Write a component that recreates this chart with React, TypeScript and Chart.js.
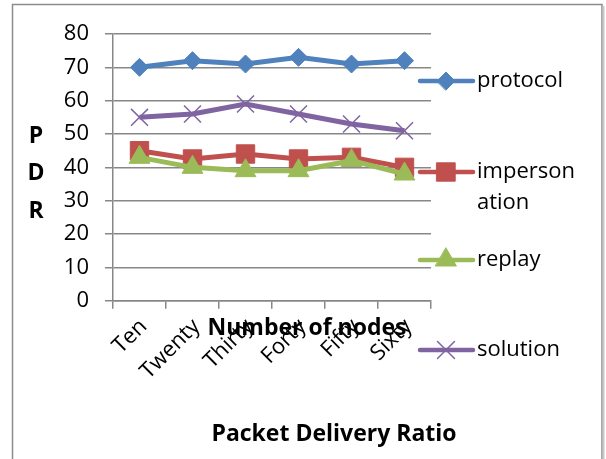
import React, { useEffect, useRef } from 'react';
import { Chart, registerables } from 'chart.js';
import { drawPoint } from 'chart.js/helpers';

Chart.register(...registerables);

const categories = ['Ten', 'Twenty', 'Thirty', 'Forty', 'Fifty', 'Sixty'];
const protocol = [70, 72, 71, 73, 71, 72];
const impersonation = [45, 42.5, 44, 42.5, 43, 40];
const replay = [43, 40, 39, 39, 42, 38];
const solution = [55, 56, 59, 56, 53, 51];
const yMin = 0;
const yMax = 80;
const yStep = 10;
const seriesNames = ['protocol', 'impersonation', 'replay', 'solution'];
const legendLines = [['protocol'], ['imperson', 'ation'], ['replay'], ['solution']];
const yTitleLetters = ['P', 'D', 'R'];
const xTitle = 'Number of nodes';
const chartTitle = 'Packet Delivery Ratio';

const FONT = '"Open Sans", "DejaVu Sans", sans-serif';
const GRID = '#878787';
const colors = ['#4F81BD', '#C0504D', '#9BBB59', '#8064A2'];
const styles = ['rectRot', 'rect', 'triangle', 'crossRot'];
const radii = [9, 13, 12, 12];
const W = 606;
const H = 459;

const decorPlugin = {
  id: 'decor',
  beforeDraw(chart: any) {
    const ctx = chart.ctx;
    ctx.save();
    ctx.fillStyle = '#ffffff';
    ctx.fillRect(0, 0, W, H);
    ctx.restore();
  },
  afterDraw(chart: any) {
    const ctx = chart.ctx;
    ctx.save();
    // frame
    ctx.strokeStyle = '#8c8c8c';
    ctx.lineWidth = 1.5;
    ctx.strokeRect(12.5, 4.5, 589.5, 480);
    ctx.strokeStyle = '#c8c8c8';
    ctx.lineWidth = 2;
    ctx.beginPath();
    ctx.moveTo(603.5, 6);
    ctx.lineTo(603.5, H);
    ctx.stroke();

    // legend
    const legendY = [81, 172, 260, 350];
    ctx.textAlign = 'left';
    ctx.textBaseline = 'middle';
    ctx.font = `22px ${FONT}`;
    seriesNames.forEach((_, i) => {
      const y = legendY[i];
      ctx.strokeStyle = colors[i];
      ctx.lineWidth = 4.5;
      ctx.lineCap = 'round';
      ctx.beginPath();
      ctx.moveTo(420, y);
      ctx.lineTo(473, y);
      ctx.stroke();
      ctx.fillStyle = colors[i];
      ctx.strokeStyle = colors[i];
      ctx.lineWidth = styles[i] === 'crossRot' ? 1.5 : 1;
      drawPoint(ctx, { pointStyle: styles[i], radius: radii[i], rotation: 0, borderWidth: ctx.lineWidth }, 446, y);
      ctx.fillStyle = '#000';
      legendLines[i].forEach((t, k) => {
        ctx.fillText(t, 477, y + k * 31);
      });
    });

    // titles
    ctx.fillStyle = '#000';
    ctx.font = `bold 23px ${FONT}`;
    ctx.textAlign = 'center';
    yTitleLetters.forEach((l, i) => ctx.fillText(l, 36, 136 + i * 37.5));
    ctx.fillText(xTitle, 307, 328);
    ctx.fillText(chartTitle, 334, 434);
    ctx.restore();
  },
};

export default function App() {
  const ref = useRef<HTMLCanvasElement>(null);
  useEffect(() => {
    const data = [protocol, impersonation, replay, solution];
    const chart = new Chart(ref.current!, {
      type: 'line',
      data: {
        labels: categories,
        datasets: data.map((d, i) => ({
          label: seriesNames[i],
          data: d,
          borderColor: colors[i],
          backgroundColor: colors[i],
          borderWidth: 5,
          pointStyle: styles[i] as any,
          pointRadius: radii[i],
          pointBorderWidth: styles[i] === 'crossRot' ? 1.5 : 1,
          pointBorderColor: colors[i],
          pointBackgroundColor: colors[i],
          tension: 0,
          order: 4 - i,
          fill: false,
        })),
      },
      options: {
        responsive: false,
        animation: false,
        devicePixelRatio: 1,
        layout: { padding: { left: 0, top: 34, right: 175, bottom: 0 } },
        plugins: { legend: { display: false }, tooltip: { enabled: false } },
        scales: {
          x: {
            type: 'category',
            offset: true,
            grid: { display: true, drawOnChartArea: false, drawTicks: true, tickLength: 8, offset: true, color: GRID, lineWidth: 1.5 },
            border: { display: true, color: GRID, width: 1.5 },
            ticks: { maxRotation: 45, minRotation: 45, autoSkip: false, color: '#000', font: { family: FONT, size: 22 }, padding: 5, labelOffset: 4 },
            afterFit: (s: any) => { s.height = H - 300.7; },
          },
          y: {
            min: yMin,
            max: yMax,
            ticks: { stepSize: yStep, padding: 16, color: '#000', font: { family: FONT, size: 22 } },
            grid: { color: GRID, lineWidth: 1.5, tickLength: 8, drawTicks: true },
            border: { display: true, color: GRID, width: 1.5 },
            afterFit: (s: any) => { s.width = 113; },
          },
        },
      },
      plugins: [decorPlugin],
    });
    return () => chart.destroy();
  }, []);
  return (
    <div style={{ position: 'absolute', left: 0, top: 0, width: W, height: H }}>
      <canvas ref={ref} width={W} height={H} style={{ display: 'block', width: W, height: H }} />
    </div>
  );
}
